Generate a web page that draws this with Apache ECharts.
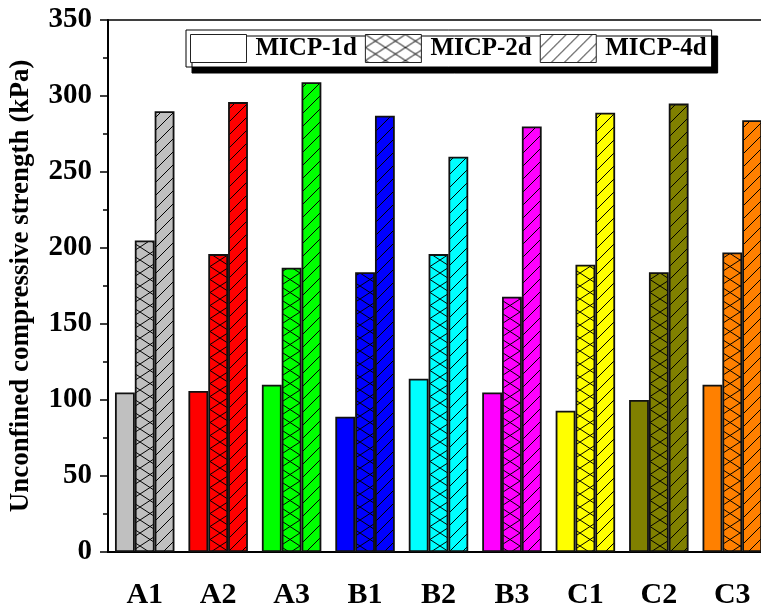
<!DOCTYPE html>
<html>
<head>
<meta charset="utf-8">
<script src="https://cdn.jsdelivr.net/npm/echarts@6/dist/echarts.min.js"></script>
<style>
html,body{margin:0;padding:0;background:#fff;}
#c{width:761px;height:608px;}
</style>
</head>
<body>
<div id="c"></div>
<script>
var categories = ['A1','A2','A3','B1','B2','B3','C1','C2','C3'];
var seriesNames = ['MICP-1d','MICP-2d','MICP-4d'];
var micp1d = [105, 106, 110, 89, 114, 105, 93, 100, 110];
var micp2d = [205, 196, 187, 184, 196, 168, 189, 184, 197];
var micp4d = [290, 296, 309, 287, 260, 280, 289, 295, 284];
var catColors = ['#C0C0C0','#FF0000','#00FF00','#0000FF','#00FFFF','#FF00FF','#FFFF00','#808000','#FF8000'];
var yTicks = [0, 50, 100, 150, 200, 250, 300, 350];

var FONT = '"Liberation Serif","Times New Roman",serif';

function makePattern(color, type) {
  var c = document.createElement('canvas');
  var w, h;
  if (type === 'cross') { w = 20; h = 13; } else if (type === 'diag') { w = 13; h = 13; } else { w = 4; h = 4; }
  c.width = w; c.height = h;
  var ctx = c.getContext('2d');
  ctx.fillStyle = color;
  ctx.fillRect(0, 0, w, h);
  ctx.strokeStyle = '#000';
  ctx.lineWidth = 1;
  if (type === 'cross') {
    ctx.beginPath();
    ctx.moveTo(0, 0); ctx.lineTo(w, h);
    ctx.moveTo(w, 0); ctx.lineTo(0, h);
    ctx.stroke();
  } else if (type === 'diag') {
    ctx.beginPath();
    ctx.moveTo(-1, h + 1); ctx.lineTo(w + 1, -1);
    ctx.moveTo(-1, 1); ctx.lineTo(1, -1);
    ctx.moveTo(w - 1, h + 1); ctx.lineTo(w + 1, h - 1);
    ctx.stroke();
  }
  return { image: c, repeat: 'repeat' };
}

var types = ['solid', 'cross', 'diag'];
var values = [micp1d, micp2d, micp4d];

var series = seriesNames.map(function (name, si) {
  return {
    name: name,
    type: 'bar',
    barGap: '0%',
    barCategoryGap: '19%',
    itemStyle: {
      color: types[si] === 'solid' ? '#ffffff' : makePattern('#ffffff', types[si]),
      borderColor: '#111',
      borderWidth: 1.8
    },
    emphasis: { disabled: true },
    data: values[si].map(function (v, ci) {
      return {
        value: v,
        itemStyle: {
          color: types[si] === 'solid' ? catColors[ci] : makePattern(catColors[ci], types[si])
        }
      };
    })
  };
});

var chart = echarts.init(document.getElementById('c'), null, { renderer: 'canvas' });
chart.setOption({
  animation: false,
  backgroundColor: '#fff',
  grid: {
    left: 108, top: 20, right: -8, bottom: 56,
    outerBoundsMode: 'none',
    containLabel: false,
    show: true, borderColor: '#000', borderWidth: 1.5, backgroundColor: 'transparent'
  },
  legend: {
    left: 186, top: 30,
    itemWidth: 56, itemHeight: 28,
    itemGap: 8,
    padding: [4, 5, 4, 4],
    backgroundColor: '#fff',
    borderColor: '#000',
    borderWidth: 1,
    shadowColor: '#000',
    shadowBlur: 0,
    shadowOffsetX: 6,
    shadowOffsetY: 6,
    selectedMode: false,
    data: seriesNames.map(function (n, i) {
      return {
        name: n,
        icon: 'rect',
        itemStyle: {
          color: types[i] === 'solid' ? '#ffffff' : makePattern('#ffffff', types[i]),
          borderColor: '#222',
          borderWidth: 1
        }
      };
    }),
    textStyle: { fontFamily: FONT, fontWeight: 'bold', fontSize: 25, color: '#000', padding: [0, 0, 0, 4] }
  },
  xAxis: {
    type: 'category',
    data: categories,
    axisLine: { lineStyle: { color: '#000', width: 2 } },
    axisTick: { alignWithLabel: true, length: 8, lineStyle: { color: '#000', width: 1.5 } },
    axisLabel: { fontFamily: FONT, fontWeight: 'bold', fontSize: 30, color: '#000', margin: 28 },
    splitLine: { show: false }
  },
  yAxis: {
    type: 'value',
    min: yTicks[0],
    max: yTicks[yTicks.length - 1],
    interval: 50,
    name: 'Unconfined compressive strength (kPa)',
    nameLocation: 'middle',
    nameGap: 73,
    nameTextStyle: { fontFamily: FONT, fontWeight: 'bold', fontSize: 27, color: '#000' },
    axisLine: { show: true, lineStyle: { color: '#000', width: 2 } },
    axisTick: { show: true, length: 8, lineStyle: { color: '#000', width: 1.5 } },
    minorTick: { show: true, splitNumber: 2, length: 5, lineStyle: { color: '#000', width: 1.5 } },
    axisLabel: { fontFamily: FONT, fontWeight: 'bold', fontSize: 29, color: '#000', margin: 16 },
    splitLine: { show: false }
  },
  series: series
});
</script>
</body>
</html>
